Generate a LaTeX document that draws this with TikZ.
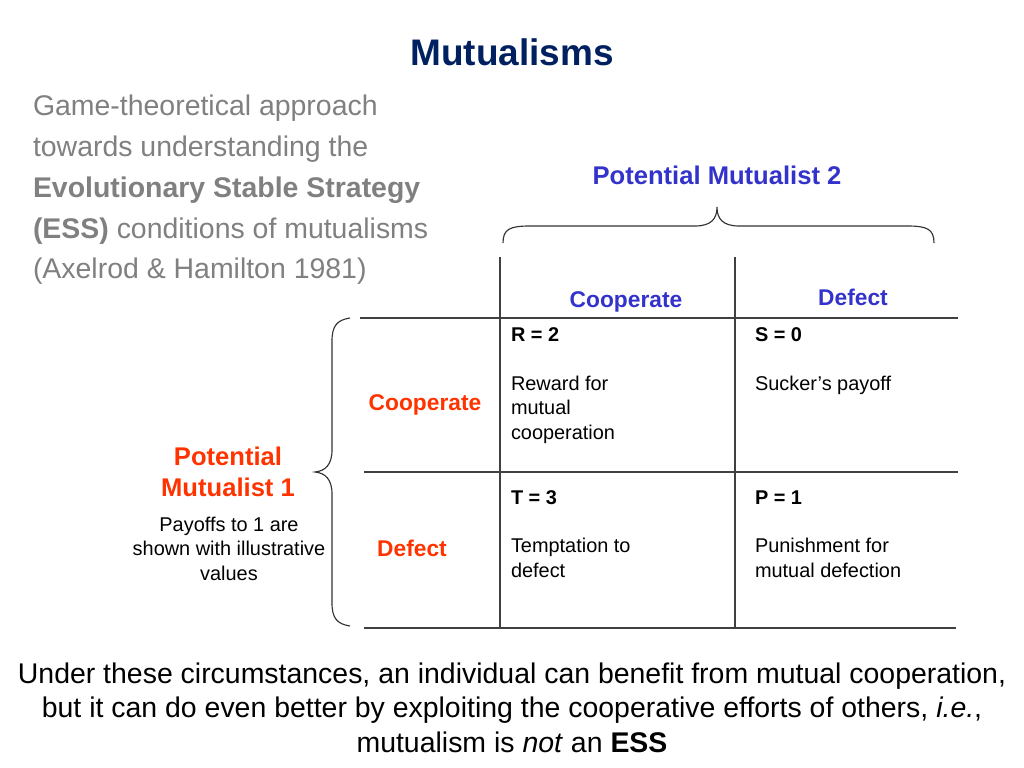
\documentclass[tikz,border=0pt]{standalone}
\usepackage{fontspec}
\setmainfont{Liberation Sans}
\usepackage{tikz}
\usetikzlibrary{positioning}
\definecolor{navy}{RGB}{0,32,96}
\definecolor{pmblue}{RGB}{51,51,204}
\definecolor{pmred}{RGB}{255,51,0}
\definecolor{introgrey}{RGB}{128,128,128}

\begin{document}
\begin{tikzpicture}[x=0.703125pt,y=-0.703125pt,
    every node/.style={inner sep=0pt,outer sep=0pt},
    head/.style={font=\fontsize{18}{21.6}\selectfont\bfseries},
    colhead/.style={font=\fontsize{16}{19.2}\selectfont\bfseries,text=pmblue,anchor=base},
    rowhead/.style={font=\fontsize{16}{19.2}\selectfont\bfseries,text=pmred,anchor=base},
    payoff/.style={font=\fontsize{14}{17.2}\selectfont\bfseries,anchor=base west},
    cell/.style={font=\fontsize{14}{17.2}\selectfont,anchor=base west,align=left},
    grid/.style={line width=0.8pt,black!75},
    brace/.style={line width=0.8pt,black!80}]
  \useasboundingbox (0,0) rectangle (1024,768);
  \node[anchor=base,font=\fontsize{26}{30}\selectfont\bfseries,text=navy] (title) at (512,66) {Mutualisms};
  \node[anchor=base west,align=left,text=introgrey,font=\fontsize{20}{28.8}\selectfont] (intro) at (33,279)
    {Game-theoretical approach\\towards understanding the\\\textbf{Evolutionary Stable Strategy}\\\textbf{(ESS)} conditions of mutualisms\\(Axelrod \& Hamilton 1981)};
  \node[head,anchor=base,text=pmblue] (pm2) at (717,185) {Potential Mutualist 2};
  \node[colhead] (c2) at (626,307) {Cooperate};
  \node[colhead] (d2) at (853,306) {Defect};
  \node[head,anchor=base,text=pmred,align=center,font=\fontsize{18}{21.1}\selectfont\bfseries] (pm1) at (228,496) {Potential\\ Mutualist 1};
  \node[anchor=base,align=center,font=\fontsize{14}{17.2}\selectfont] (note) at (229,580) {Payoffs to 1 are\\shown with illustrative\\values};
  \node[rowhead] (c1) at (425,410) {Cooperate};
  \node[rowhead] (d1) at (412,556) {Defect};
  % payoffs
  \node[payoff] (R) at (511,342) {R = 2};
  \node[payoff] (S) at (755,342) {S = 0};
  \node[payoff] (T) at (511,504) {T = 3};
  \node[payoff] (P) at (755,504) {P = 1};
  \node[cell] (Rtxt) at (511,439) {Reward for\\mutual\\cooperation};
  \node[cell] (Stxt) at (755,390) {Sucker’s payoff};
  \node[cell] (Ttxt) at (511,577) {Temptation to\\defect};
  \node[cell] (Ptxt) at (755,577) {Punishment for\\mutual defection};
  \node[anchor=base,align=center,font=\fontsize{20}{24.2}\selectfont] (concl) at (512,752)
    {Under these circumstances, an individual can benefit from mutual cooperation,\\but it can do even better by exploiting the cooperative efforts of others, \textit{i.e.},\\mutualism is \textit{not} an \textbf{ESS}};
  % table lines
  \coordinate (v1t) at (500,257); \coordinate (v1b) at (500,628);
  \coordinate (v2t) at (735,257); \coordinate (v2b) at (735,628);
  \coordinate (h1l) at (360,318); \coordinate (h1r) at (958,318);
  \coordinate (h2l) at (364,472); \coordinate (h2r) at (958,472);
  \coordinate (h3l) at (364,628); \coordinate (h3r) at (956,628);
  \draw[grid] (v1t) -- (v1b);
  \draw[grid] (v2t) -- (v2b);
  \draw[grid] (h1l) -- (h1r);
  \draw[grid] (h2l) -- (h2r);
  \draw[grid] (h3l) -- (h3r);
  % braces
  \draw[brace] (503,243) .. controls (503,229) and (510,226) .. (530,226) -- (695,226)
    .. controls (711,226) and (717,219) .. (717,207) .. controls (717,219) and (723,226) .. (739,226)
    -- (907,226) .. controls (927,226) and (934,229) .. (934,243);
  \draw[brace] (350,318) .. controls (337,320) and (332,326) .. (332,341) -- (332,450)
    .. controls (332,465) and (325,471) .. (315,472) .. controls (325,473) and (332,479) .. (332,494)
    -- (332,603) .. controls (332,618) and (337,624) .. (350,626);
\end{tikzpicture}
\end{document}
